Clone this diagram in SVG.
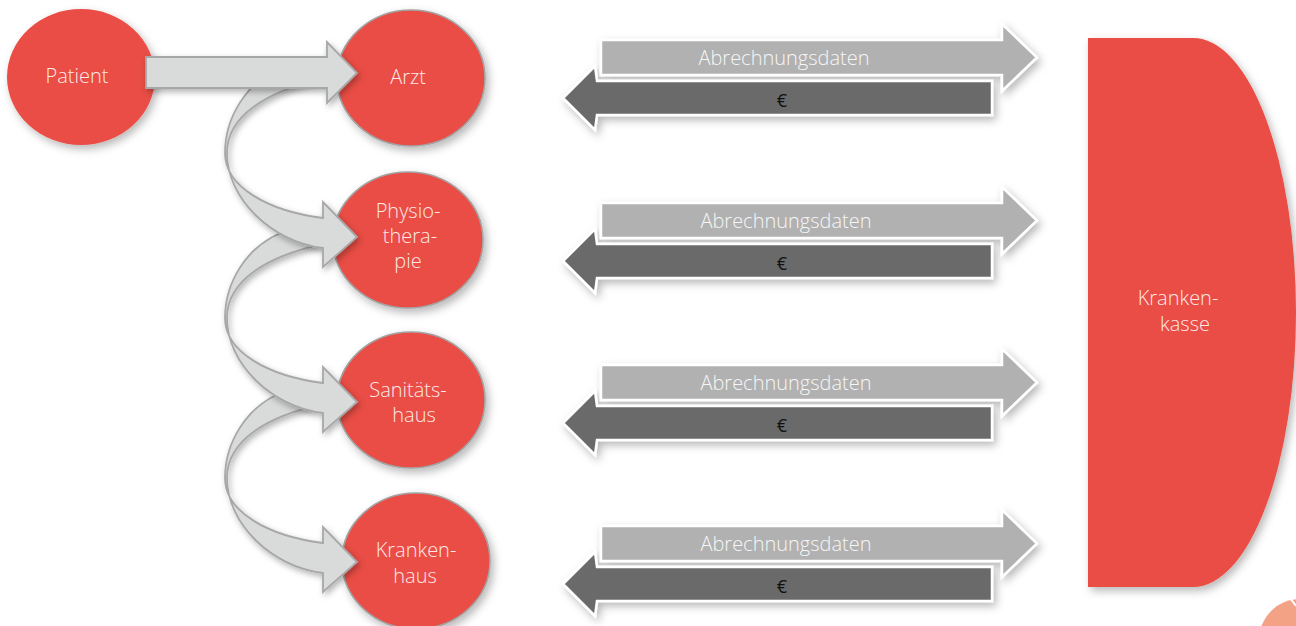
<svg xmlns="http://www.w3.org/2000/svg" width="1296" height="626" viewBox="0 0 1296 626">
<style>
.node{fill:#e94e45;}
.ring{stroke:#a3a3a3;stroke-width:1.6;}
.lbl{font-family:"Open Sans","Liberation Sans",sans-serif;font-weight:300;font-size:20px;fill:#fde9e7;text-anchor:middle;}
.flow{fill:#d9dbdb;stroke:#a7a7a7;stroke-width:1.8;stroke-linejoin:miter;}
.light{fill:#b1b1b1;stroke:#ffffff;stroke-width:2.5;}
.dark{fill:#6b6b6b;stroke:#ffffff;stroke-width:2.5;}
.tl{font-family:"Open Sans","Liberation Sans",sans-serif;font-weight:300;font-size:20px;fill:#f6f6f6;text-anchor:middle;}
.eur{font-family:"Open Sans","Liberation Sans",sans-serif;font-weight:400;font-size:18px;fill:#111111;text-anchor:middle;}
</style>
<defs>
<filter id="sh" x="-20%" y="-20%" width="150%" height="150%">
<feDropShadow dx="3" dy="4" stdDeviation="4" flood-color="#000" flood-opacity="0.28"/>
</filter>
<filter id="sh2" x="-20%" y="-20%" width="150%" height="150%">
<feDropShadow dx="2" dy="3" stdDeviation="3" flood-color="#000" flood-opacity="0.3"/>
</filter>
<path id="curve" d="M283,-170 C245,-155 225,-118 225,-84 C225,-50 268,-26 323,-19 L323,-35 L357,0 L323,30 L323,11 C272,5 227,-38 227,-84 C227,-122 268,-146 323,-158 Z"/>
<g id="dbl">
<path class="dark" d="M597,81 L992,81 L992,115 L597,115 L595,130 L563,98 L595,66 Z"/>
<path class="light" d="M601,40 L1002,40 L1002,24 L1037,57.5 L1002,91 L1002,75 L601,75 Z"/>
</g>
</defs>

<g id="krankenkasse">
<path class="node" filter="url(#sh)" d="M1088,38 L1193,38 A103,274.5 0 0 1 1193,587 L1088,587 Z"/>
<text class="lbl" x="1178" y="305">Kranken-</text>
<text class="lbl" x="1185" y="331">kasse</text>
</g>

<g id="patient">
<ellipse class="node" filter="url(#sh)" cx="81" cy="77" rx="74" ry="68"/>
<text class="lbl" x="77" y="83">Patient</text>
</g>
<g id="arzt">
<ellipse class="node ring" filter="url(#sh)" cx="411" cy="78" rx="74" ry="68"/>
<text class="lbl" x="408" y="84">Arzt</text>
</g>
<g id="physiotherapie">
<ellipse class="node ring" filter="url(#sh)" cx="408" cy="240" rx="75" ry="68"/>
<text class="lbl" x="408" y="218">Physio-</text>
<text class="lbl" x="410" y="243">thera-</text>
<text class="lbl" x="408" y="268">pie</text>
</g>
<g id="sanitaetshaus">
<ellipse class="node ring" filter="url(#sh)" cx="411" cy="400" rx="74" ry="68"/>
<text class="lbl" x="408" y="397">Sanitäts-</text>
<text class="lbl" x="414" y="422">haus</text>
</g>
<g id="krankenhaus">
<ellipse class="node ring" filter="url(#sh)" cx="416" cy="561" rx="74" ry="68"/>
<text class="lbl" x="416" y="557">Kranken-</text>
<text class="lbl" x="415" y="583">haus</text>
</g>

<g id="connectors">
<use href="#curve" class="flow" filter="url(#sh2)" transform="translate(0,562)"/>
<use href="#curve" class="flow" filter="url(#sh2)" transform="translate(0,402)"/>
<use href="#curve" class="flow" filter="url(#sh2)" transform="translate(0,237)"/>
<path class="flow" filter="url(#sh2)" d="M146,57 L327,57 L327,42 L357,73 L327,103 L327,88 L146,88 Z"/>

<g filter="url(#sh)"><use href="#dbl"/></g>
<text class="tl" x="784" y="65">Abrechnungsdaten</text>
<text class="eur" x="782" y="107">€</text>

<g filter="url(#sh)" transform="translate(0,163)"><use href="#dbl"/></g>
<text class="tl" x="786" y="228">Abrechnungsdaten</text>
<text class="eur" x="782" y="270">€</text>

<g filter="url(#sh)" transform="translate(0,325)"><use href="#dbl"/></g>
<text class="tl" x="786" y="390">Abrechnungsdaten</text>
<text class="eur" x="782" y="432">€</text>

<g filter="url(#sh)" transform="translate(0,486)"><use href="#dbl"/></g>
<text class="tl" x="786" y="551">Abrechnungsdaten</text>
<text class="eur" x="782" y="593">€</text>
</g>

<circle cx="1300" cy="640" r="41" fill="#f4a285"/>
<path d="M1290,598 L1296,606" stroke="#ffffff" stroke-width="2"/>
</svg>
